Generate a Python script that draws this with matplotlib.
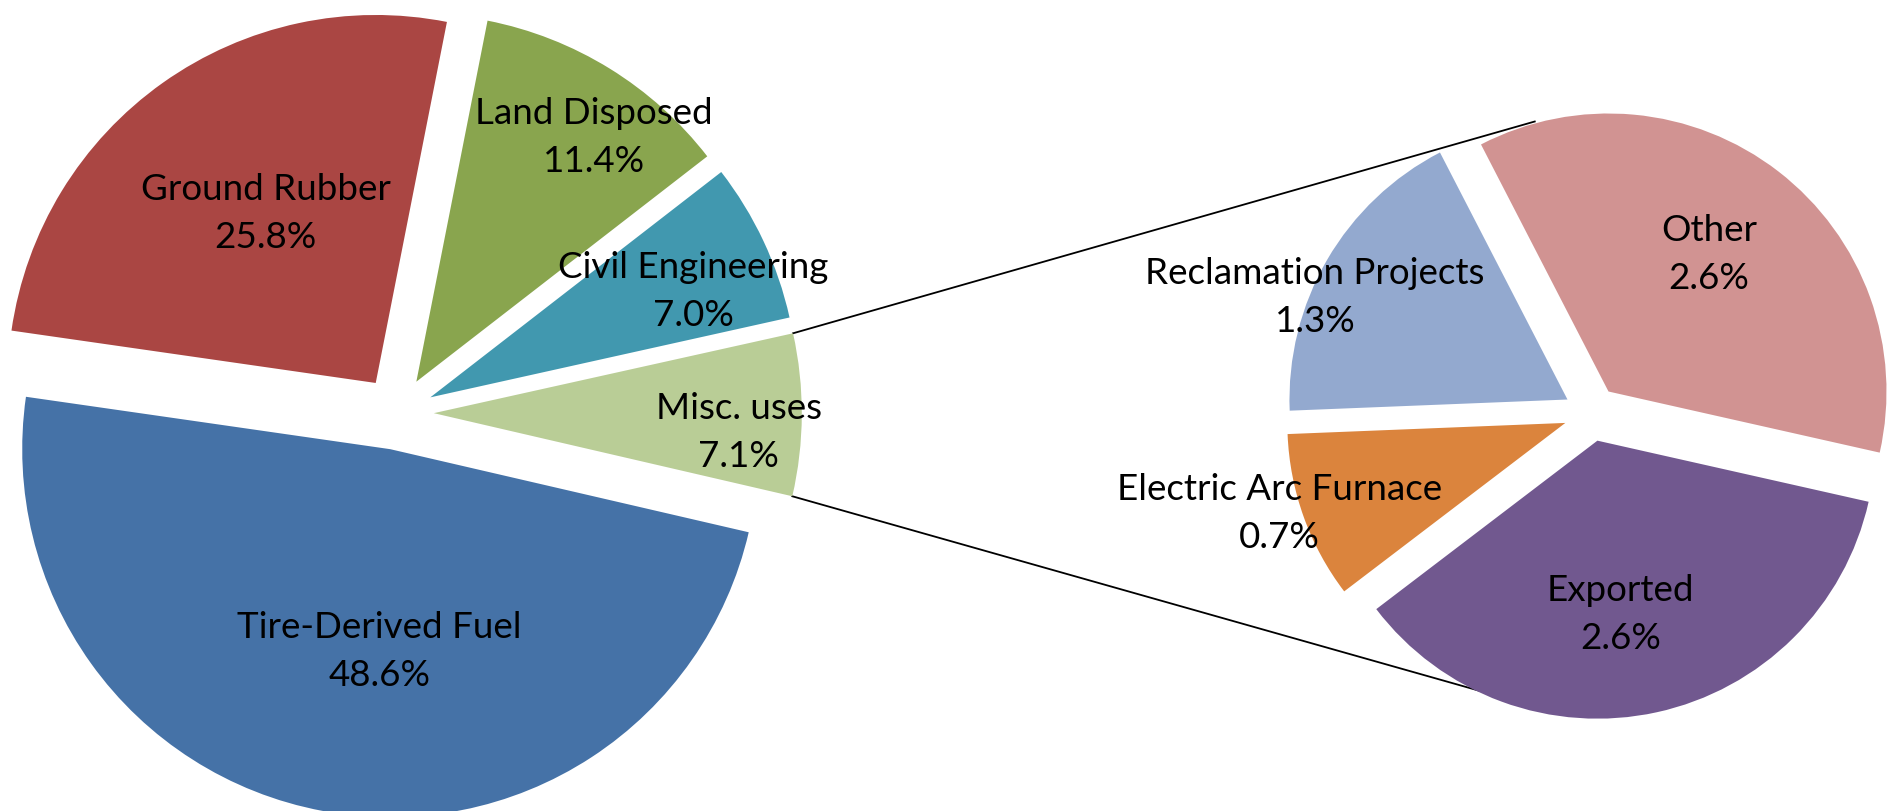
import numpy as np
import matplotlib
matplotlib.use("Agg")
import matplotlib.pyplot as plt

# ── data ─────────────────────────────────────────────────────────────────────
main_labels = ["Tire-Derived Fuel", "Ground Rubber", "Land Disposed",
               "Civil Engineering", "Misc. uses"]
main_values = [48.6, 25.8, 11.4, 7.0, 7.1]

sub_labels = ["Other", "Reclamation Projects", "Electric Arc Furnace", "Exported"]
sub_values = [2.6, 1.3, 0.7, 2.6]

# ── style / layout ───────────────────────────────────────────────────────────
MAIN_COLORS = ["#4572A7", "#AA4643", "#89A54E", "#4198AF", "#B9CD96"]
SUB_COLORS = ["#D19392", "#93A9CF", "#DB843D", "#71588F"]
FONT = "Lato"
FS = 26.5

W, H = 1894, 811
MAIN_C, MAIN_R = (397, 398), 368
SUB_C, SUB_R = (1591.5, 397.5), 278
EXPLODE = 0.1          # fraction of radius (matplotlib wants absolute units)

# label placement: (radius fraction from wedge tip, angle in degrees)
MAIN_LBL = [(0.55, 267), (0.55, 123), (0.82, 54), (0.77, 22), (0.83, -3.6)]
SUB_LBL = [(0.61, 53.7), (0.98, 158), (1.08, 197.6), (0.63, 277.6)]

fig = plt.figure(figsize=(W / 100, H / 100), dpi=100)
ax = fig.add_axes([0, 0, 1, 1])

main_w, _ = ax.pie(main_values, colors=MAIN_COLORS, center=MAIN_C, radius=MAIN_R,
                   startangle=-13.05, counterclock=False,
                   explode=[EXPLODE * MAIN_R] * len(main_values), frame=True)
sub_w, _ = ax.pie(sub_values, colors=SUB_COLORS, center=SUB_C, radius=SUB_R,
                  startangle=-12.7, counterclock=True,
                  explode=[EXPLODE * SUB_R] * len(sub_values), frame=True)
ax.set_xlim(0, W)
ax.set_ylim(0, H)
ax.set_aspect("equal")
ax.axis("off")


def put_labels(wedges, labels, values, placement, r):
    for w, lab, val, (f, ang) in zip(wedges, labels, values, placement):
        cx, cy = w.center
        a = np.radians(ang)
        ax.text(cx + f * r * np.cos(a), cy + f * r * np.sin(a),
                f"{lab}\n{val:.1f}%", ha="center", va="center",
                fontsize=FS, family=FONT, linespacing=1.55, color="black")


put_labels(main_w, main_labels, main_values, MAIN_LBL, MAIN_R)
put_labels(sub_w, sub_labels, sub_values, SUB_LBL, SUB_R)

# ── connector lines from the "Misc. uses" wedge to the secondary pie ─────────
misc = main_w[-1]
mx, my = misc.center
for t_main, t_sub in [(misc.theta2, 101.0), (misc.theta1, -104.0)]:
    p0 = (mx + MAIN_R * np.cos(np.radians(t_main)),
          my + MAIN_R * np.sin(np.radians(t_main)))
    p1 = (SUB_C[0] + 1.07 * SUB_R * np.cos(np.radians(t_sub)),
          SUB_C[1] + 1.07 * SUB_R * np.sin(np.radians(t_sub)))
    ax.plot([p0[0], p1[0]], [p0[1], p1[1]], color="black", lw=1.3, zorder=0)

fig.savefig("out.png", dpi=100, facecolor="white")
